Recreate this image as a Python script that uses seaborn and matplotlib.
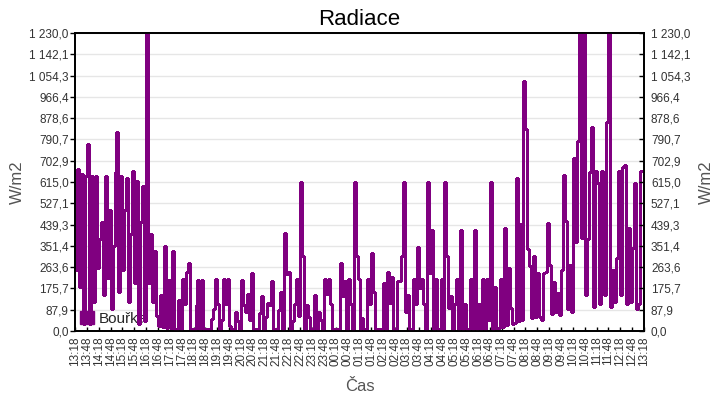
import numpy as np
import pandas as pd
import matplotlib
matplotlib.use("Agg")
import matplotlib.pyplot as plt
from matplotlib.patches import Patch
import seaborn as sns

# 5-minute readings, one row per hour, starting 13:18
h00 = [250, 670, 180, 650, 30, 640, 770, 30, 640, 120, 640, 260]
h01 = [380, 450, 150, 640, 220, 500, 90, 350, 655, 820, 160, 640]
h02 = [250, 500, 630, 120, 400, 660, 200, 620, 30, 450, 600, 40]
h03 = [1230, 200, 400, 120, 330, 60, 20, 150, 15, 350, 12, 210]
h04 = [12, 330, 8, 8, 130, 8, 215, 110, 245, 280, 8, 8]
h05 = [8, 107, 209, 7, 209, 7, 7, 7, 7, 48, 90, 213]
h06 = [110, 7, 44, 213, 110, 213, 20, 7, 7, 78, 41, 7]
h07 = [209, 107, 78, 151, 44, 238, 7, 7, 7, 73, 145, 7]
h08 = [59, 117, 107, 208, 7, 7, 7, 87, 162, 7, 403, 234]
h09 = [245, 7, 43, 110, 213, 62, 617, 311, 7, 107, 56, 7]
h10 = [7, 149, 7, 80, 44, 7, 213, 151, 213, 110, 7, 7]
h11 = [7, 7, 282, 145, 208, 7, 213, 110, 7, 617, 311, 213]
h12 = [7, 52, 7, 7, 213, 110, 321, 162, 7, 7, 7, 7]
h13 = [197, 7, 242, 114, 222, 7, 7, 208, 208, 311, 617, 77]
h14 = [149, 7, 7, 213, 110, 348, 176, 213, 110, 7, 617, 241]
h15 = [415, 7, 213, 7, 7, 213, 7, 617, 311, 94, 145, 7]
h16 = [110, 213, 7, 417, 7, 110, 7, 7, 213, 7, 417, 7]
h17 = [110, 7, 213, 7, 213, 45, 617, 9, 180, 12, 14, 213]
h18 = [15, 424, 25, 259, 94, 30, 35, 631, 40, 441, 45, 1033]
h19 = [834, 339, 270, 52, 311, 56, 238, 56, 45, 238, 245, 445]
h20 = [273, 70, 204, 80, 156, 66, 250, 644, 452, 90, 273, 80]
h21 = [715, 369, 784, 1230, 383, 1230, 150, 380, 658, 843, 100, 661]
h22 = [610, 110, 660, 652, 150, 864, 1230, 100, 250, 120, 300, 661]
h23 = [150, 675, 686, 110, 424, 120, 341, 610, 90, 110, 661, 661]
last_value = [661]

x_tick_labels = ["13:18", "13:48", "14:18", "14:48", "15:18", "15:48", "16:18", "16:48",
                 "17:18", "17:48", "18:18", "18:48", "19:18", "19:48", "20:18", "20:48",
                 "21:18", "21:48", "22:18", "22:48", "23:18", "23:48", "00:18", "00:48",
                 "01:18", "01:48", "02:18", "02:48", "03:18", "03:48", "04:18", "04:48",
                 "05:18", "05:48", "06:18", "06:48", "07:18", "07:48", "08:18", "08:48",
                 "09:18", "09:48", "10:18", "10:48", "11:18", "11:48", "12:18", "12:48",
                 "13:18"]
y_tick_labels = ["0,0", "87,9", "175,7", "263,6", "351,4", "439,3", "527,1", "615,0",
                 "702,9", "790,7", "878,6", "966,4", "1 054,3", "1 142,1", "1 230,0"]
y_max = 1230.0
series_name = "Bouřka"

values = (h00 + h01 + h02 + h03 + h04 + h05 + h06 + h07 + h08 + h09 + h10 + h11 +
          h12 + h13 + h14 + h15 + h16 + h17 + h18 + h19 + h20 + h21 + h22 + h23 + last_value)
minutes = np.arange(len(values)) * 5
df = pd.DataFrame({"t": minutes, "v": values})

sns.set_style("white")
plt.rcParams["font.family"] = ["Liberation Sans", "DejaVu Sans"]

color = "#800080"
fig = plt.figure(figsize=(7.2, 4.0), dpi=100)
ax = fig.add_axes([75 / 720, 69 / 400, 569 / 720, 298 / 400])

sns.lineplot(data=df, x="t", y="v", ax=ax, color=color, linewidth=1.0,
             drawstyle="steps-post", legend=False, antialiased=False, zorder=3)

ax.set_xlim(0, 1440)
ax.set_ylim(0, y_max)
yt = np.linspace(0, y_max, len(y_tick_labels))
ax.set_yticks(yt)
ax.set_yticklabels(y_tick_labels)
xt = np.arange(len(x_tick_labels)) * 30
ax.set_xticks(xt)
ax.set_xticklabels(x_tick_labels, rotation=90)

ax.yaxis.grid(True, color="#e6e6e6", linewidth=1)
ax.xaxis.grid(False)
ax.set_axisbelow(True)
for s in ax.spines.values():
    s.set_color("black")
    s.set_linewidth(1.3)

ax.tick_params(axis="y", direction="out", length=3.5, width=1, color="black",
               labelsize=8.5, labelcolor="#333333", pad=1, left=True)
ax.tick_params(axis="x", direction="in", length=3, width=1, color="black",
               labelsize=8.5, labelcolor="#333333", pad=4, bottom=True)

ax2 = ax.twinx()
ax2.set_ylim(0, y_max)
ax2.set_yticks(yt)
ax2.set_yticklabels(y_tick_labels)
ax2.tick_params(axis="y", direction="in", length=3.5, width=1, color="black",
                labelsize=8.5, labelcolor="#333333", pad=5, right=True)
ax2.grid(False)
for s in ax2.spines.values():
    s.set_color("black")
    s.set_linewidth(1.3)
ax2.set_ylabel("W/m2", fontsize=12, color="#555555", labelpad=6)

ax.set_xlabel("Čas", fontsize=12, color="#555555", labelpad=9)
ax.set_ylabel("W/m2", fontsize=12, color="#555555", labelpad=3)
ax.set_title("Radiace", fontsize=16, color="black", pad=6)

leg = ax.legend(handles=[Patch(facecolor=color, edgecolor=color, label=series_name)],
                loc="lower left", bbox_to_anchor=(0.0, 0.0), frameon=False, fontsize=11,
                handlelength=0.9, handleheight=0.9, handletextpad=0.3, borderpad=0.2,
                borderaxespad=0.15)
leg.set_zorder(2)

fig.savefig("out.png", dpi=100)
